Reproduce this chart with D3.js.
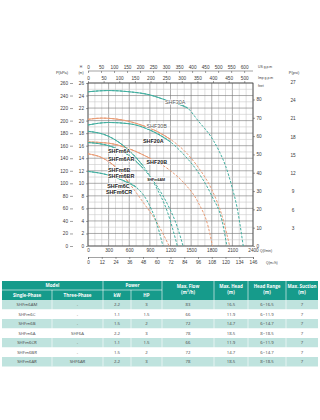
<!DOCTYPE html>
<html>
<head>
<meta charset="utf-8">
<script src="https://cdn.jsdelivr.net/npm/d3@7"></script>
<style>
  body { margin: 0; background: #fff; }
  svg text { font-family: "Liberation Sans", Arial, sans-serif; }
  .tbl text { font-family: "Open Sans", "Noto Sans", sans-serif; }
</style>
</head>
<body>
<div id="chart"></div>
<script>
// ---- axis tick values ----
var qTicks = [0, 300, 600, 900, 1200, 1500, 1800, 2100, 2400];
var m3hLabels = ["0", "12", "24", "36", "48", "60", "72", "84", "96", "108", "120", "134", "146"];
var usTicks = [0, 50, 100, 150, 200, 250, 300, 350, 400, 450, 500, 550, 600];
var impTicks = [0, 50, 100, 150, 200, 250, 300, 350, 400, 450, 500];
var hTicks = [0, 2, 4, 6, 8, 10, 12, 14, 16, 18, 20, 22, 24, 26];
var kpaTicks = [0, 20, 40, 60, 80, 100, 120, 140, 160, 180, 200, 220, 240, 260];
var feetTicks = [0, 10, 20, 30, 40, 50, 60, 70, 80];
var psiTicks = [3, 6, 9, 12, 15, 18, 21, 24, 27];

// ---- pump curves: [Q l/min, H m], solid part ends at "solidTo" ----
var shf30A  = [[0,24.6],[300,24.8],[600,24.6],[900,24.1],[1100,23.4],[1300,22.7],[1450,22.0],[1600,20.0],[1820,16.9],[1900,15.3],[2000,12.8],[2100,9.2],[2165,6.3],[2258,0]];
var shf30B  = [[0,20.2],[200,20.4],[500,20.1],[800,19.2],[1000,18.3],[1200,17.0],[1400,15.2],[1600,12.6],[1800,9.0],[1950,4.8],[2060,0]];
var shf20A  = [[0,19.3],[300,19.7],[600,19.5],[900,18.5],[1200,16.6],[1400,14.5],[1600,11.8],[1800,8.0],[1950,4.0],[2020,0]];
var shf20B  = [[0,16.6],[300,16.4],[600,15.5],[900,14.0],[1200,12.0],[1400,10.0],[1600,7.0],[1750,3.0],[1810,0]];
var shfm6AM = [[0,16.5],[300,16.0],[600,14.4],[800,12.4],[1000,9.6],[1150,6.8],[1300,3.0],[1383,0]];
var shfm6A  = [[0,18.3],[300,17.5],[600,15.2],[800,12.8],[1000,9.2],[1150,5.6],[1300,0]];
var shfm6B  = [[0,14.7],[200,14.1],[400,12.6],[600,10.0],[800,7.0],[1000,3.8],[1180,0]];
var shfm6C  = [[0,11.9],[300,11.3],[500,10.5],[700,9.4],[850,7.4],[1000,3.6],[1090,0]];

var curves = [
  {name: "SHF30A",  pts: shf30A,  color: "teal",   solidTo: 1450},
  {name: "SHF30B",  pts: shf30B,  color: "orange", solidTo: 1200},
  {name: "SHF20A",  pts: shf20A,  color: "teal",   solidTo: 1200},
  {name: "SHF20B",  pts: shf20B,  color: "orange", solidTo: 1100},
  {name: "SHFm6AM", pts: shfm6AM, color: "teal",   solidTo: 800},
  {name: "SHFm6A",  pts: shfm6A,  color: "teal",   solidTo: 800},
  {name: "SHFm6B",  pts: shfm6B,  color: "orange", solidTo: 600},
  {name: "SHFm6C",  pts: shfm6C,  color: "teal",   solidTo: 700}
];

// ---- curve labels ----
var labelText = ["SHF30A", "SHF30B", "SHF20A", "SHFm6A", "SHFm6AR", "SHF20B", "SHFm6B", "SHFm6BR", "SHFm6AM", "SHFm6C", "SHFm6CR"];
var labelQ    = [1120, 850, 800, 290, 290, 850, 290, 290, 860, 280, 260];
var labelH    = [22.6, 18.8, 16.4, 14.8, 13.6, 13.1, 11.8, 10.9, 10.3, 9.3, 8.3];

// ---- table ----
var colHeads1 = ["Model", "Power", "Max. Flow", "Max. Head", "Head Range", "Max. Suction"];
var colHeads2 = ["Single-Phase", "Three-Phase", "kW", "HP", "(m\u00b3/h)", "(m)", "(m)", "(m)"];
var singlePhase = ["SHFm6AM", "SHFm6C", "SHFm6B", "SHFm6A", "SHFm6CR", "SHFm6BR", "SHFm6AR"];
var threePhase  = ["-", "-", "-", "SHF6A", "-", "-", "SHF6AR"];
var kW          = ["2.2", "1.1", "1.5", "2.2", "1.1", "1.5", "2.2"];
var hp          = ["3", "1.5", "2", "3", "1.5", "2", "3"];
var maxFlow     = ["83", "66", "72", "78", "66", "72", "78"];
var maxHead     = ["16.5", "11.9", "14.7", "18.5", "11.9", "14.7", "18.5"];
var headRange   = ["6~16.5", "6~11.9", "6~14.7", "8~18.5", "6~11.9", "6~14.7", "8~18.5"];
var maxSuction  = ["7", "7", "7", "7", "7", "7", "7"];

var TEAL = "#41ae9f", ORANGE = "#e99b74", GRID_MAJ = "#767676", GRID_MIN = "#cacaca", TXT = "#3a3a3a";
var FS = 4.7;

var svg = d3.select("#chart").append("svg").attr("width", 320).attr("height", 420);

var x = d3.scaleLinear().domain([0, 2400]).range([88, 253]);
var y = d3.scaleLinear().domain([0, 26]).range([246, 83]);
var yKpa = d3.scaleLinear().domain([0, 260]).range([246, 83]);
var yFeet = d3.scaleLinear().domain([0, 89]).range([246, 83]);
var yPsi = d3.scaleLinear().domain([0, 27]).range([246, 82]);
var xUs = d3.scaleLinear().domain([0, 600]).range([88, 88 + 600 * 3.785 / 2400 * 165]);
var xImp = d3.scaleLinear().domain([0, 500]).range([88, 88 + 500 * 4.546 / 2400 * 165]);
var xM3 = d3.scaleLinear().domain([0, 144]).range([88, 253]);
var fmt = d3.format("d");

// grid
var grid = svg.append("g");
grid.selectAll(".vmin").data(d3.range(0, 2401, 100)).enter().append("line")
  .attr("x1", function(d){ return x(d); }).attr("x2", function(d){ return x(d); })
  .attr("y1", y(0)).attr("y2", y(26))
  .attr("stroke", function(d){ return d % 300 === 0 ? GRID_MAJ : GRID_MIN; })
  .attr("stroke-width", 0.6);
grid.selectAll(".hmin").data(d3.range(0, 27, 1)).enter().append("line")
  .attr("y1", function(d){ return y(d); }).attr("y2", function(d){ return y(d); })
  .attr("x1", x(0)).attr("x2", x(2400))
  .attr("stroke", function(d){ return d % 2 === 0 ? GRID_MAJ : GRID_MIN; })
  .attr("stroke-width", 0.6);
svg.append("rect").attr("x", x(0)).attr("y", y(26)).attr("width", x(2400) - x(0)).attr("height", y(0) - y(26))
  .attr("fill", "none").attr("stroke", "#444").attr("stroke-width", 0.7);

function styleAxis(g, size) {
  g.selectAll("text").attr("font-size", size).attr("fill", TXT);
  g.selectAll("line").attr("stroke", "#444").attr("stroke-width", 0.5);
  g.select(".domain").attr("stroke", "#444").attr("stroke-width", 0.5);
}

// bottom axes
var axQ = svg.append("g").attr("transform", "translate(0," + y(0) + ")")
  .call(d3.axisBottom(x).tickValues(qTicks).tickSize(0).tickPadding(3).tickFormat(fmt));
axQ.select(".domain").remove();
styleAxis(axQ, FS);

var axM3 = svg.append("g").attr("transform", "translate(0,257)")
  .call(d3.axisBottom(xM3).tickValues(d3.range(0, 145, 12)).tickSize(2).tickPadding(2)
    .tickFormat(function(d, i){ return m3hLabels[i]; }));
styleAxis(axM3, FS);

svg.append("text").attr("x", 260).attr("y", 251.5).attr("font-size", 3.4).attr("fill", TXT).text("Q(l/min)");
svg.append("text").attr("x", 266).attr("y", 264).attr("font-size", 3.4).attr("fill", TXT).text("Q(m\u00b3/h)");

// top axes
var axUs = svg.append("g").attr("transform", "translate(0,71)")
  .call(d3.axisTop(xUs).tickValues(usTicks).tickSize(0).tickPadding(2.5).tickFormat(fmt));
axUs.selectAll(".tick").append("line").attr("y1", 0).attr("y2", 2);
axUs.select(".domain").attr("d", "M88,0H253");
styleAxis(axUs, FS);

var axImp = svg.append("g").attr("transform", "translate(0," + y(26) + ")")
  .call(d3.axisTop(xImp).tickValues(impTicks).tickSize(2).tickPadding(1.5).tickFormat(fmt));
axImp.select(".domain").remove();
styleAxis(axImp, FS);

svg.append("text").attr("x", 258).attr("y", 68).attr("font-size", 3.4).attr("fill", TXT).text("US g.p.m");
svg.append("text").attr("x", 258).attr("y", 78.5).attr("font-size", 3.4).attr("fill", TXT).text("Imp g.p.m");
svg.append("text").attr("x", 258).attr("y", 86.5).attr("font-size", 3.4).attr("fill", TXT).text("feet");

// left axes
var axH = svg.append("g").attr("transform", "translate(" + x(0) + ",0)")
  .call(d3.axisLeft(y).tickValues(hTicks).tickSize(2).tickPadding(2));
axH.select(".domain").remove();
styleAxis(axH, FS);

var axK = svg.append("g").attr("transform", "translate(73,0)")
  .call(d3.axisLeft(yKpa).tickValues(kpaTicks).tickSize(0).tickPadding(5));
axK.select(".domain").remove();
axK.selectAll(".tick").append("line").attr("x1", -3).attr("x2", 0);
styleAxis(axK, FS);

svg.append("text").attr("x", 81).attr("y", 68).attr("font-size", 3.4).attr("text-anchor", "middle").attr("fill", TXT).text("H");
svg.append("text").attr("x", 81).attr("y", 74).attr("font-size", 3.4).attr("text-anchor", "middle").attr("fill", TXT).text("(m)");
svg.append("text").attr("x", 62).attr("y", 74).attr("font-size", 4).attr("text-anchor", "middle").attr("fill", TXT).text("P(kPa)");

// right axes
var axF = svg.append("g").attr("transform", "translate(" + x(2400) + ",0)")
  .call(d3.axisRight(yFeet).tickValues(feetTicks).tickSize(2).tickPadding(1.5));
axF.select(".domain").remove();
styleAxis(axF, FS);

var axP = svg.append("g").attr("transform", "translate(293,0)")
  .call(d3.axisRight(yPsi).tickValues(psiTicks).tickSize(0).tickPadding(0));
axP.select(".domain").remove();
axP.selectAll("text").attr("text-anchor", "middle");
styleAxis(axP, FS);
svg.append("text").attr("x", 294).attr("y", 74).attr("font-size", 4).attr("text-anchor", "middle").attr("fill", TXT).text("P(psi)");

// curves
var line = d3.line().x(function(d){ return x(d[0]); }).y(function(d){ return y(d[1]); }).curve(d3.curveMonotoneX);
var cg = svg.append("g");
curves.forEach(function(c) {
  var col = c.color === "teal" ? TEAL : ORANGE;
  var solid = c.pts.filter(function(p){ return p[0] <= c.solidTo; });
  cg.append("path").datum(c.pts).attr("d", line)
    .attr("fill", "none").attr("stroke", col).attr("stroke-width", 1).attr("stroke-dasharray", "2.5,1.5");
  cg.append("path").datum(solid).attr("d", line)
    .attr("fill", "none").attr("stroke", col).attr("stroke-width", 1);
});

// labels
svg.append("g").selectAll("text").data(labelText).enter().append("text")
  .attr("x", function(d, i){ return x(labelQ[i]); })
  .attr("y", function(d, i){ return y(labelH[i]); })
  .attr("font-size", function(d){ return d === "SHFm6AM" ? 3.6 : 5.4; })
  .attr("font-weight", function(d){ return d === "SHF30B" || d === "SHF30A" ? "normal" : "bold"; })
  .attr("fill", function(d){ return d === "SHF30B" || d === "SHF30A" ? "#555" : "#222"; })
  .attr("stroke", "#fff").attr("stroke-width", 1.4).attr("paint-order", "stroke")
  .text(function(d){ return d; });

// table
var cols = [2, 52, 103, 131, 162, 214, 248, 286, 318];
var tg = svg.append("g").attr("class", "tbl");
var top0 = 281, hRow = 9, r0 = 300, rH = 9.5;
tg.append("rect").attr("x", 2).attr("y", top0).attr("width", 316).attr("height", r0 - top0).attr("fill", "#169b8b");
var rowsData = d3.range(7);
tg.selectAll(".rb").data(rowsData).enter().append("rect")
  .attr("x", 2).attr("y", function(i){ return r0 + i * rH; })
  .attr("width", 316).attr("height", rH)
  .attr("fill", function(i){ return i % 2 === 0 ? "#bfe3de" : "#fff"; });
var sep = tg.append("g").attr("stroke", "#fff").attr("stroke-width", 0.6);
[52, 131].forEach(function(c){ sep.append("line").attr("x1", c).attr("x2", c).attr("y1", top0 + hRow).attr("y2", r0 + 7 * rH); });
[103, 162, 214, 248, 286].forEach(function(c){ sep.append("line").attr("x1", c).attr("x2", c).attr("y1", top0).attr("y2", r0 + 7 * rH); });
sep.append("line").attr("x1", 2).attr("x2", 162).attr("y1", top0 + hRow).attr("y2", top0 + hRow);

function cx(i){ return (cols[i] + cols[i + 1]) / 2; }
var hdr = tg.append("g").attr("fill", "#fff").attr("font-size", 4.5).attr("font-weight", "bold").attr("text-anchor", "middle");
hdr.append("text").attr("x", (cols[0] + cols[2]) / 2).attr("y", top0 + 6.2).text(colHeads1[0]);
hdr.append("text").attr("x", (cols[2] + cols[4]) / 2).attr("y", top0 + 6.2).text(colHeads1[1]);
for (var k = 2; k < 6; k++) {
  hdr.append("text").attr("x", cx(k + 2)).attr("y", top0 + 7).text(colHeads1[k]);
}
for (var j = 0; j < 8; j++) {
  hdr.append("text").attr("x", cx(j)).attr("y", j < 4 ? top0 + 15.5 : top0 + 13).text(colHeads2[j]);
}
var cells = [singlePhase, threePhase, kW, hp, maxFlow, maxHead, headRange, maxSuction];
var body = tg.append("g").attr("fill", "#444").attr("font-size", 4.3).attr("text-anchor", "middle");
cells.forEach(function(colArr, ci) {
  colArr.forEach(function(v, ri) {
    body.append("text").attr("x", cx(ci)).attr("y", r0 + ri * rH + 6.2).text(v);
  });
});
</script>
</body>
</html>
